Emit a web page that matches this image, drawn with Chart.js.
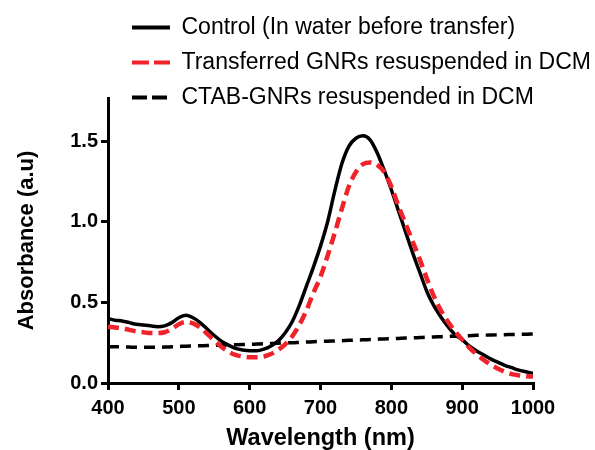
<!DOCTYPE html>
<html>
<head>
<meta charset="utf-8">
<script src="https://cdn.jsdelivr.net/npm/chart.js@4.4.1/dist/chart.umd.min.js"></script>
<style>
  body { margin: 0; background: #fff; }
  #wrap { width: 595px; height: 450px; }
</style>
</head>
<body>
<div id="wrap"><canvas id="absChart" width="595" height="450"></canvas></div>
<script>
// wavelengths (nm) and absorbance
const wavelengths = [400,410,420,430,440,450,460,470,480,490,500,510,520,530,540,550,560,570,580,590,
  600,610,620,630,640,650,660,670,680,690,700,710,720,730,740,750,760,770,780,790,
  800,810,820,830,840,850,860,870,880,890,900,910,920,930,940,950,960,970,980,990,1000];

const control = [0.40,0.39,0.385,0.375,0.365,0.36,0.355,0.35,0.355,0.375,0.405,0.42,0.405,0.375,0.335,0.295,0.26,0.235,0.215,0.205,
  0.20,0.20,0.21,0.23,0.26,0.31,0.38,0.48,0.60,0.72,0.85,1.00,1.19,1.36,1.47,1.52,1.535,1.51,1.43,1.32,
  1.20,1.07,0.94,0.81,0.69,0.57,0.48,0.41,0.35,0.30,0.27,0.23,0.20,0.175,0.15,0.13,0.11,0.095,0.08,0.07,0.06];

const transferred = [0.35,0.345,0.34,0.33,0.32,0.315,0.31,0.31,0.315,0.335,0.365,0.38,0.37,0.345,0.305,0.265,0.225,0.195,0.175,0.165,
  0.16,0.16,0.165,0.18,0.205,0.24,0.29,0.36,0.45,0.56,0.66,0.79,0.93,1.08,1.22,1.31,1.36,1.37,1.355,1.31,
  1.22,1.10,0.99,0.88,0.77,0.65,0.54,0.45,0.38,0.32,0.27,0.22,0.18,0.145,0.115,0.09,0.07,0.055,0.047,0.042,0.04];

const ctabGnrs = [0.225,0.225,0.224,0.223,0.222,0.222,0.222,0.222,0.223,0.225,0.227,0.229,0.230,0.231,0.233,0.234,0.236,0.237,0.238,0.239,
  0.240,0.242,0.244,0.245,0.247,0.249,0.250,0.252,0.254,0.256,0.258,0.260,0.261,0.263,0.265,0.267,0.268,0.270,0.272,0.274,
  0.275,0.277,0.279,0.280,0.282,0.284,0.286,0.288,0.290,0.291,0.293,0.294,0.296,0.297,0.298,0.299,0.300,0.301,0.302,0.303,0.305];

const seriesNames = ['Control (In water before transfer)', 'Transferred GNRs resuspended in DCM', 'CTAB-GNRs resuspended in DCM'];
const xTicks = [400, 500, 600, 700, 800, 900, 1000];
const yTicks = [0.0, 0.5, 1.0, 1.5];

const FONT = "'Liberation Sans', Arial, sans-serif";
const legendDash = [[], [17, 5], [15, 5]];
const toPts = vals => wavelengths.map((w, i) => ({ x: w, y: vals[i] }));

// legend sits partly beside the y axis top in the figure: move the block
// right/down a bit and let it draw past its reserved box
const legendShift = {
  id: 'legendShift',
  afterLayout(chart) {
    const lg = chart.legend;
    if (!lg) return;
    lg.left += 12;
    lg.right += 60;
    lg.top += 4;
    lg.bottom = lg.top + 120;
  }
};

const ctx = document.getElementById('absChart').getContext('2d');
new Chart(ctx, {
  type: 'line',
  data: {
    datasets: [
      { label: seriesNames[0], data: toPts(control), borderColor: '#000', borderWidth: 3.5, order: 2 },
      { label: seriesNames[1], data: toPts(transferred), borderColor: '#f0222a', borderWidth: 4.5, borderDash: [11, 6], order: 1 },
      { label: seriesNames[2], data: toPts(ctabGnrs), borderColor: '#000', borderWidth: 3.5, borderDash: [11, 7], order: 3 }
    ]
  },
  plugins: [legendShift],
  options: {
    responsive: false,
    animation: false,
    layout: { padding: { top: 0, right: 62, left: 0, bottom: 0 } },
    elements: {
      point: { radius: 0 },
      line: { cubicInterpolationMode: 'monotone', fill: false }
    },
    plugins: {
      tooltip: { enabled: false },
      legend: {
        position: 'top',
        align: 'start',
        fullSize: false,
        maxHeight: 98,
        labels: {
          usePointStyle: true,
          pointStyle: 'line',
          pointStyleWidth: 38,
          padding: 12,
          color: '#000',
          font: { family: FONT, size: 23 },
          generateLabels: chart => chart.data.datasets.map((ds, i) => ({
            text: ds.label,
            datasetIndex: i,
            strokeStyle: ds.borderColor,
            fillStyle: ds.borderColor,
            lineWidth: 4,
            lineDash: legendDash[i],
            pointStyle: 'line',
            hidden: false
          }))
        }
      }
    },
    scales: {
      x: {
        type: 'linear',
        min: 400,
        max: 1000,
        afterFit: s => { s.height = 67; },
        afterBuildTicks: s => { s.ticks = xTicks.map(v => ({ value: v })); },
        border: { display: true, color: '#000', width: 3 },
        grid: { drawOnChartArea: false, drawTicks: true, tickLength: 7, color: '#000', lineWidth: 3 },
        ticks: { color: '#000', padding: 6, maxRotation: 0, callback: v => String(v), font: { family: FONT, size: 20, weight: 'bold' } },
        title: { display: true, text: 'Wavelength (nm)', color: '#000', padding: { top: 0, bottom: 0 }, font: { family: FONT, size: 23.5, weight: 'bold', lineHeight: 1 } }
      },
      y: {
        min: 0,
        max: 1.77,
        afterFit: s => { s.width = 108; },
        afterBuildTicks: s => { s.ticks = yTicks.map(v => ({ value: v })); },
        border: { display: true, color: '#000', width: 3 },
        grid: { drawOnChartArea: false, drawTicks: true, tickLength: 7, color: '#000', lineWidth: 3 },
        ticks: { color: '#000', padding: 3, callback: v => v.toFixed(1), font: { family: FONT, size: 20, weight: 'bold' } },
        title: { display: true, text: 'Absorbance (a.u)', color: '#000', padding: { top: 14, bottom: 0 }, font: { family: FONT, size: 22, weight: 'bold' } }
      }
    }
  }
});
</script>
</body>
</html>
